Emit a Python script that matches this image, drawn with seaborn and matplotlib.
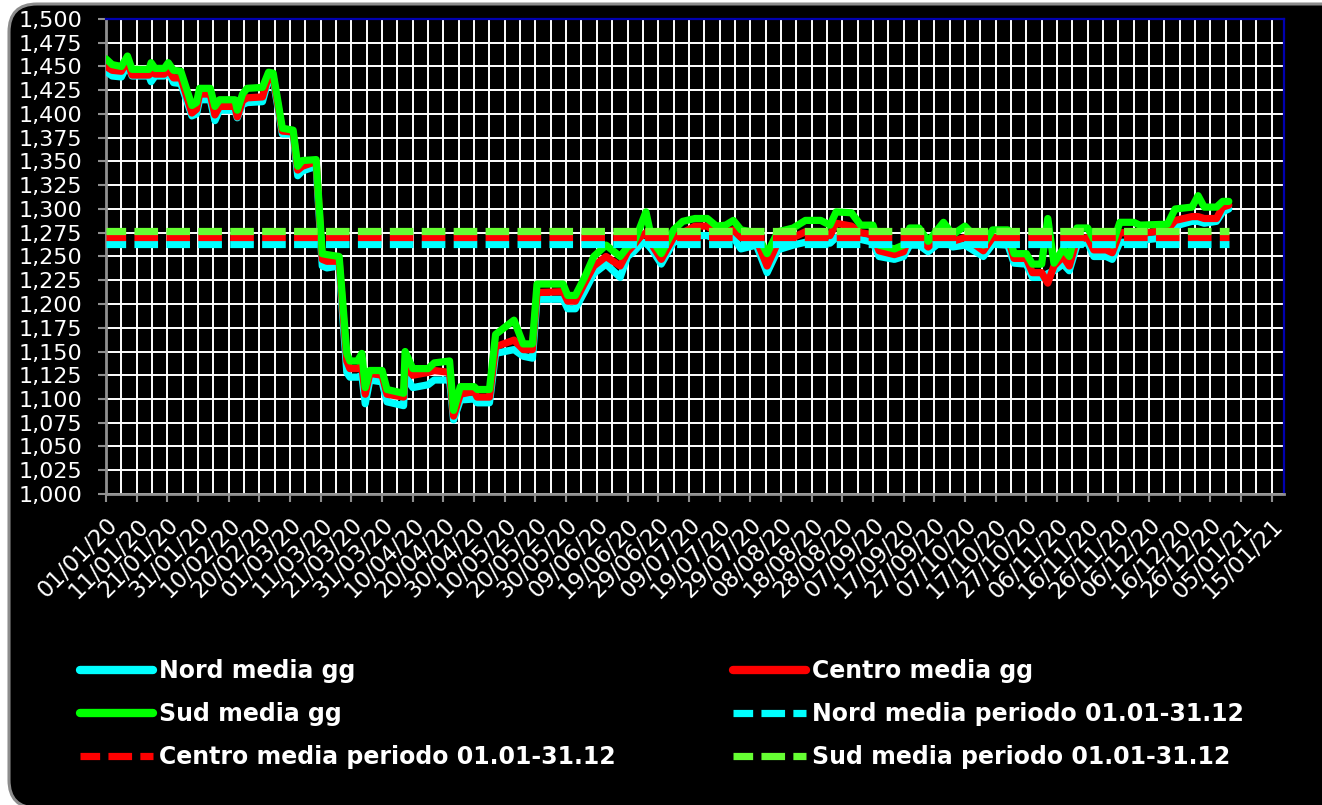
import numpy as np
import pandas as pd
import matplotlib
matplotlib.use("Agg")
import matplotlib.pyplot as plt
import matplotlib.dates as mdates
import matplotlib.transforms as mtransforms
from matplotlib.patches import FancyBboxPatch
from matplotlib.lines import Line2D
from matplotlib.ticker import FuncFormatter, MultipleLocator
import seaborn as sns

# ---------------- data ----------------
start_date = "2020-01-01"
day_offsets = [0, 2, 5, 7, 8.5, 14, 14.7, 16, 19, 20.3, 22, 24.4, 28, 29.5, 30.5, 34, 35.5, 37, 42, 42.8,
               44.5, 46, 51, 53, 54.5, 57.5, 61, 62.5, 64, 68.5, 70.5, 72, 76, 78.5, 79.5, 82, 83.4, 84.5, 86, 90,
               91.6, 97, 97.5, 100, 105, 107, 112, 113.3, 115.5, 120, 121, 125, 127, 133, 136, 139, 140.5, 149, 150.5, 153,
               156, 159, 163, 167.6, 170, 172, 174, 176, 178, 181, 185, 188, 192, 196, 199, 202, 204.5, 207, 212, 215.5,
               219, 224, 228, 233, 236, 238, 243, 246, 250, 252, 257, 260, 262, 265, 268, 273, 276, 280, 286, 289,
               294, 296, 300, 302, 305, 307, 309, 312, 314, 316.5, 320, 322, 326, 328, 330.5, 335, 337, 346, 348.5, 354,
               356, 358, 362, 364, 366]
sud_gg = [1458, 1452, 1450, 1461, 1447, 1447, 1454, 1448, 1448, 1454, 1446, 1445, 1409, 1412, 1427, 1427, 1408, 1415, 1415, 1404,
          1421, 1427, 1428, 1444, 1443, 1385, 1383, 1345, 1351, 1352, 1253, 1252, 1250, 1148, 1140, 1140, 1148, 1112, 1130, 1130,
          1110, 1106, 1150, 1132, 1132, 1138, 1140, 1088, 1113, 1113, 1110, 1110, 1168, 1183, 1158, 1158, 1221, 1221, 1209, 1209,
          1228, 1250, 1262, 1250, 1260, 1264, 1280, 1297, 1267, 1253, 1278, 1287, 1290, 1290, 1282, 1283, 1288, 1278, 1275, 1253,
          1276, 1280, 1288, 1288, 1283, 1297, 1296, 1283, 1283, 1262, 1258, 1262, 1280, 1280, 1266, 1286, 1273, 1282, 1262, 1278,
          1278, 1253, 1253, 1242, 1242, 1290, 1243, 1258, 1250, 1280, 1280, 1268, 1268, 1262, 1286, 1286, 1283, 1284, 1300, 1302,
          1314, 1302, 1302, 1308, 1308]
centro_gg = [1450, 1446, 1445, 1456, 1441, 1441, 1446, 1442, 1442, 1447, 1438, 1438, 1401, 1405, 1421, 1421, 1399, 1408, 1408, 1397,
             1414, 1417, 1418, 1440, 1439, 1382, 1381, 1341, 1345, 1350, 1247, 1245, 1245, 1140, 1132, 1132, 1135, 1105, 1127, 1125,
             1105, 1102, 1135, 1125, 1128, 1130, 1128, 1082, 1105, 1108, 1102, 1102, 1155, 1162, 1152, 1152, 1212, 1213, 1203, 1203,
             1222, 1240, 1250, 1240, 1255, 1262, 1270, 1275, 1262, 1247, 1270, 1275, 1282, 1282, 1275, 1276, 1278, 1270, 1268, 1240,
             1265, 1270, 1276, 1276, 1272, 1285, 1282, 1275, 1273, 1256, 1252, 1255, 1272, 1270, 1260, 1276, 1266, 1270, 1256, 1270,
             1270, 1248, 1248, 1233, 1233, 1222, 1240, 1250, 1240, 1268, 1270, 1257, 1257, 1254, 1275, 1275, 1274, 1278, 1288, 1292,
             1292, 1290, 1290, 1302, 1304]
nord_gg = [1445, 1440, 1439, 1452, 1440, 1440, 1434, 1440, 1440, 1444, 1433, 1432, 1398, 1400, 1415, 1415, 1393, 1404, 1404, 1396,
           1410, 1412, 1413, 1437, 1436, 1379, 1379, 1335, 1340, 1345, 1240, 1238, 1240, 1128, 1123, 1123, 1125, 1095, 1120, 1118,
           1097, 1093, 1125, 1112, 1115, 1120, 1120, 1078, 1099, 1100, 1096, 1096, 1148, 1152, 1145, 1143, 1205, 1205, 1195, 1195,
           1213, 1232, 1242, 1228, 1250, 1255, 1262, 1265, 1257, 1242, 1265, 1268, 1272, 1272, 1268, 1268, 1270, 1258, 1262, 1233,
           1257, 1262, 1265, 1265, 1264, 1270, 1270, 1268, 1265, 1250, 1247, 1250, 1262, 1262, 1255, 1268, 1260, 1262, 1250, 1263,
           1262, 1243, 1242, 1228, 1228, 1232, 1235, 1242, 1235, 1262, 1265, 1250, 1250, 1247, 1265, 1265, 1267, 1270, 1282, 1287,
           1287, 1285, 1287, 1297, 1300]

period_days = [0, 366]
nord_media_periodo = 1263
centro_media_periodo = 1270
sud_media_periodo = 1277

series_names = ["Nord media gg", "Centro media gg", "Sud media gg",
                "Nord media periodo 01.01-31.12", "Centro media periodo 01.01-31.12",
                "Sud media periodo 01.01-31.12"]
series_colors = ["#00FFFF", "#FF0000", "#00FF00", "#00FFFF", "#FF0000", "#66FF33"]

x_min, x_max = "2020-01-01", "2021-01-19"
tick_first, tick_last = "2020-01-01", "2021-01-15"
y_min, y_max, y_step = 1000, 1500, 25

# ---------------- frames ----------------
t0 = pd.Timestamp(start_date)
dates = t0 + pd.to_timedelta(day_offsets, unit="D")
daily = pd.concat([
    pd.DataFrame({"data": dates, "valore": vals, "serie": name})
    for name, vals in zip(series_names[:3], [nord_gg, centro_gg, sud_gg])
])
pdates = t0 + pd.to_timedelta(period_days, unit="D")
means = [nord_media_periodo, centro_media_periodo, sud_media_periodo]

# ---------------- figure ----------------
sns.set_style("dark")
plt.rcParams["font.family"] = ["DejaVu Sans"]

W, H = 1322, 805
fig = plt.figure(figsize=(W / 100, H / 100), dpi=100)
fig.patch.set_facecolor("white")
bg = FancyBboxPatch((9, -3), 1340, 804, boxstyle="round,pad=0,rounding_size=28",
                    transform=mtransforms.IdentityTransform(), facecolor="black",
                    edgecolor="#8c8c8c", linewidth=2.2, zorder=0)
fig.add_artist(bg)

ax = fig.add_axes([106 / W, (H - 494) / H, (1284 - 106) / W, (494 - 19) / H])
ax.set_facecolor("black")

LW = 5.2
sns.lineplot(data=daily, x="data", y="valore", hue="serie", hue_order=series_names[:3],
             palette=series_colors[:3], linewidth=LW, estimator=None, sort=False,
             legend=False, ax=ax, zorder=3)
for ln in ax.lines:
    ln.set_solid_joinstyle("round")

dash_style = (0.55, (3.27, 1.15))
for name, val, col in zip(series_names[3:], means, series_colors[3:]):
    dfm = pd.DataFrame({"data": pdates, "valore": [val] * len(pdates)})
    sns.lineplot(data=dfm, x="data", y="valore", color=col, linewidth=LW,
                 linestyle=dash_style, dash_capstyle="butt", estimator=None,
                 ax=ax, zorder=4)

# axes limits / ticks
ax.set_xlim(pd.Timestamp(x_min), pd.Timestamp(x_max))
ax.set_ylim(y_min, y_max)
ax.yaxis.set_major_locator(MultipleLocator(y_step))
ax.yaxis.set_major_formatter(FuncFormatter(lambda v, p: f"{v:,.0f}"))
major_ticks = pd.date_range(tick_first, tick_last, freq="10D")
minor_ticks = pd.date_range(tick_first, tick_last, freq="5D")
ax.set_xticks(major_ticks)
ax.set_xticks(minor_ticks, minor=True)
ax.xaxis.set_major_formatter(mdates.DateFormatter("%d/%m/%y"))

ax.grid(True, which="major", color="white", linewidth=1.4)
ax.grid(True, which="minor", axis="x", color="white", linewidth=1.4)
ax.set_axisbelow(True)

ax.tick_params(axis="y", which="major", direction="out", length=6, width=1.5,
               color="#909090", labelcolor="white", labelsize=16, pad=11, left=True)
ax.tick_params(axis="x", which="major", direction="out", length=6, width=1.5,
               color="#909090", labelcolor="white", labelsize=16.5, pad=14, bottom=True)
ax.tick_params(axis="x", which="minor", length=0)

offset = mtransforms.ScaledTranslation(0.08, 0, fig.dpi_scale_trans)
for lab in ax.get_xticklabels():
    lab.set_rotation(45)
    lab.set_rotation_mode("anchor")
    lab.set_ha("right")
    lab.set_va("center")
    lab.set_transform(lab.get_transform() + offset)

ax.set_xlabel("")
ax.set_ylabel("")
for side in ["left", "bottom"]:
    ax.spines[side].set_visible(True)
    ax.spines[side].set_color("#909090")
    ax.spines[side].set_linewidth(2)
for side in ["top", "right"]:
    ax.spines[side].set_visible(True)
    ax.spines[side].set_color("#0000B0")
    ax.spines[side].set_linewidth(1.6)

# legend (row-major order of reference: two columns)
handles = {}
for i, (name, col) in enumerate(zip(series_names, series_colors)):
    if i < 3:
        handles[name] = Line2D([], [], color=col, linewidth=6, solid_capstyle="round")
    else:
        handles[name] = Line2D([], [], color=col, linewidth=LW, linestyle=dash_style)
order = [series_names[0], series_names[2], series_names[4],
         series_names[1], series_names[3], series_names[5]]
leg = fig.legend([handles[n] for n in order], order, loc="upper left",
                 bbox_to_anchor=(80 / W, 1 - 659 / H), ncol=2, frameon=False,
                 prop={"weight": "bold", "size": 17}, labelcolor="white",
                 handlelength=3.1, handletextpad=0.25, columnspacing=4.95,
                 labelspacing=0.8, borderpad=0, borderaxespad=0)

fig.savefig("out.png", dpi=100, facecolor=fig.get_facecolor())
